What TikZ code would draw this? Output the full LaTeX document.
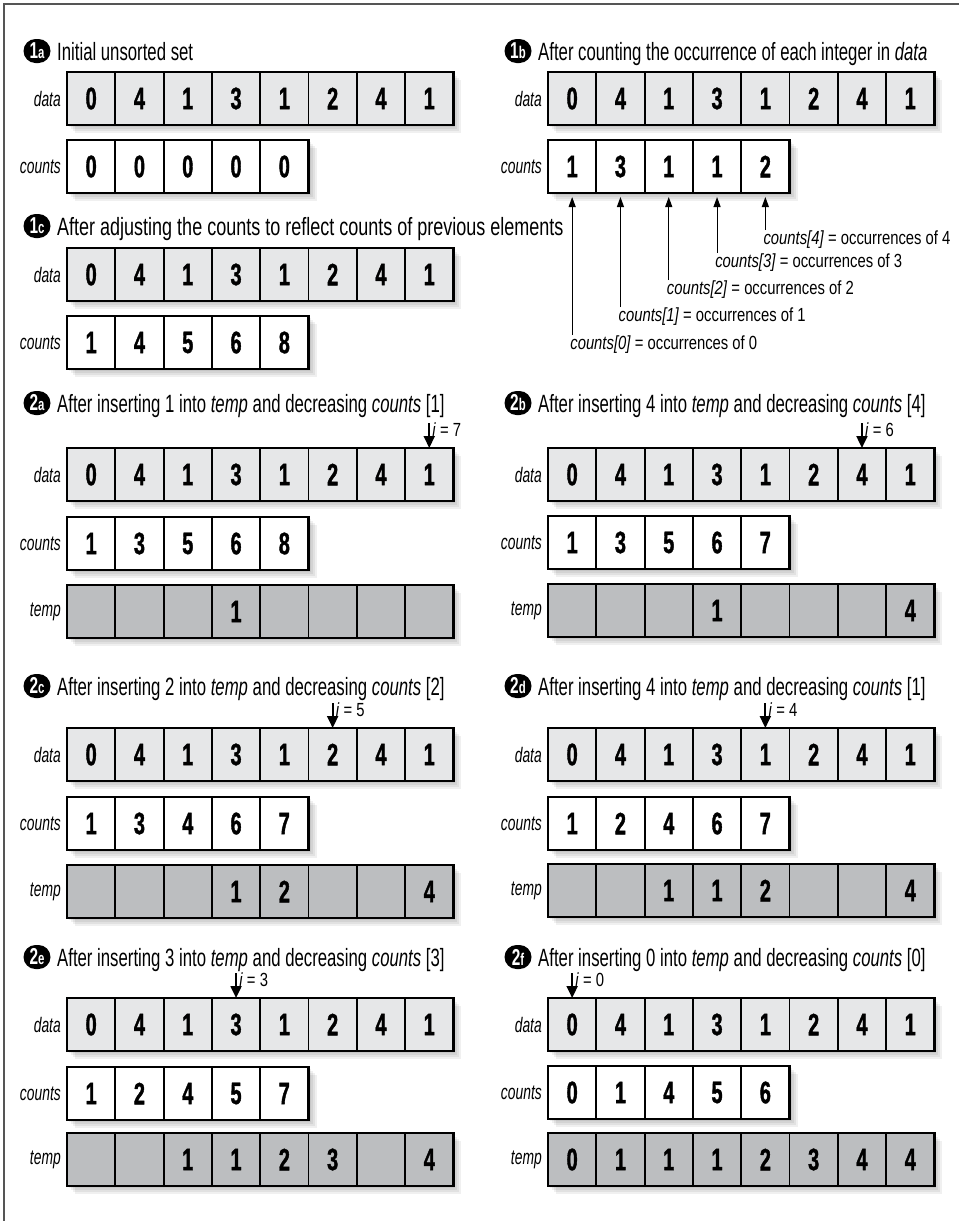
\documentclass[tikz,border=0pt]{standalone}
\usepackage{fontspec}
\setmainfont{Liberation Sans}
\newfontfamily\ttlf{Liberation Sans}[FakeStretch=0.67]
\newfontfamily\ttlw{Liberation Sans}[FakeStretch=0.72]
\newfontfamily\celf{Liberation Sans}[FakeStretch=0.64,FakeBold=1.2]
\newfontfamily\annf{Liberation Sans}[FakeStretch=0.78]
\newfontfamily\labf{Liberation Sans}[FakeStretch=0.66]
\usetikzlibrary{arrows.meta,calc}
\definecolor{datac}{HTML}{E6E7E8}
\definecolor{tempc}{HTML}{BCBEC0}
\definecolor{framec}{HTML}{555555}
\tikzset{
 cellbox/.style={draw=black, line width=1.8pt, minimum width=48.3pt, minimum height=53pt, inner sep=0pt, outer sep=0pt, anchor=north west, font=\celf\bfseries\fontsize{31}{31}\selectfont},
 rowedge/.style={draw=black, line width=2.8pt},
 rowlab/.style={anchor=east, inner sep=0pt, font=\labf\itshape\fontsize{21}{21}\selectfont},
 badge/.style={fill=black, text=white, rounded corners=12pt, minimum width=27pt, minimum height=24pt, inner sep=0pt, font=\ttlf\bfseries},
 ttl/.style={inner sep=0pt, font=\ttlf\fontsize{25}{25}\selectfont},
 ilab/.style={inner sep=0pt, font=\annf\fontsize{19}{19}\selectfont},
 ann/.style={inner sep=0pt, font=\annf\fontsize{19}{19}\selectfont},
 iarr/.style={line width=2pt, -{Triangle[width=11pt,length=12pt]}},
 carr/.style={line width=1.1pt, -{Triangle[width=7pt,length=10pt]}},
 borderline/.style={draw=framec, line width=1.6pt},
}
% #1 name, #2 x, #3 y(top), #4 fill, #5 n cells, #6 values, #7 label
\newcommand{\arow}[7]{%
  \foreach \k in {2,4,6,8}{\fill[black,opacity=0.06] ({#2+\k},{#3+\k}) rectangle ({#2+#5*48.3+\k},{#3+53+\k});}
  \foreach \v [count=\i from 0] in {#6}{\node[cellbox,fill=#4] (#1-\i) at ({#2+\i*48.3},#3) {\v};}
  \pgfmathtruncatemacro\lastidx{#5-1}
  \draw[rowedge] (#1-0.north west) rectangle (#1-\lastidx.south east);
  \node[rowlab] (#1-lab) at ($(#1-0.west)+(-6,0)$) {#7};
}
% #1 name, #2 badge x, #3 baseline y, #4 badge number, #5 badge letter, #6 title
\newcommand{\ttl}[6]{%
  \node[badge] (#1-b) at (#2,{#3-9}) {{\fontsize{23}{23}\selectfont #4}{\fontsize{17}{17}\selectfont #5}};
  \node[ttl,anchor=base west] (#1-t) at ({#2+20},#3) {#6};
}
% #1 row name, #2 cell index, #3 value of i
\newcommand{\iarrow}[3]{%
  \coordinate (#1-it) at ($(#1-#2.north)+(0,-25)$);
  \draw[iarr] (#1-it) -- (#1-#2.north);
  \node[ilab,anchor=base west] (#1-il) at ($(#1-#2.north)+(3,-12)$) {\textit{i} = #3};
}
\begin{document}
\begin{tikzpicture}[x=1pt,y=-1pt]
\useasboundingbox (0,0) rectangle (959,1221);
\fill[white] (0,0) rectangle (959,1221);
\draw[borderline] (4,1221) -- (4,4) -- (959,4);

% 1a
\ttl{t1a}{37}{60}{1}{a}{Initial unsorted set}
\arow{d1a}{67}{72}{datac}{8}{0,4,1,3,1,2,4,1}{data}
\arow{c1a}{67}{140}{white}{5}{0,0,0,0,0}{counts}

% 1b
\ttl{t1b}{518}{60}{1}{b}{After counting the occurrence of each integer in \textit{data}}
\arow{d1b}{548}{72}{datac}{8}{0,4,1,3,1,2,4,1}{data}
\arow{cnt1b}{548}{140}{white}{5}{1,3,1,1,2}{counts}
\foreach \cc/\ty in {0/335,1/307,2/280,3/253,4/230}{
  \path (cnt1b-\cc.south) ++(0,{\ty-193}) coordinate (ct\cc);
  \draw[carr] (ct\cc) -- ($(cnt1b-\cc.south)+(0,4)$);
  \node[ann,anchor=north west] (ctl\cc) at ($(ct\cc)+(-2,1)$) {\textit{counts[\cc]} = occurrences of \cc};
}

% 1c
\ttl{t1c}{37}{235}{1}{c}{\ttlw After adjusting the counts to reflect counts of previous elements}
\arow{d1c}{67}{248}{datac}{8}{0,4,1,3,1,2,4,1}{data}
\arow{c1c}{67}{316}{white}{5}{1,4,5,6,8}{counts}

% 2a
\ttl{t2a}{37}{412}{2}{a}{After inserting 1 into \textit{temp} and decreasing \textit{counts} [1]}
\arow{d2a}{67}{448}{datac}{8}{0,4,1,3,1,2,4,1}{data}
\arow{c2a}{67}{517}{white}{5}{1,3,5,6,8}{counts}
\arow{m2a}{67}{585}{tempc}{8}{{},{},{},1,{},{},{},{}}{temp}
\iarrow{d2a}{7}{7}

% 2b
\ttl{t2b}{518}{412}{2}{b}{After inserting 4 into \textit{temp} and decreasing \textit{counts} [4]}
\arow{d2b}{548}{448}{datac}{8}{0,4,1,3,1,2,4,1}{data}
\arow{c2b}{548}{516}{white}{5}{1,3,5,6,7}{counts}
\arow{m2b}{548}{584}{tempc}{8}{{},{},{},1,{},{},{},4}{temp}
\iarrow{d2b}{6}{6}

% 2c
\ttl{t2c}{37}{695}{2}{c}{After inserting 2 into \textit{temp} and decreasing \textit{counts} [2]}
\arow{d2c}{67}{728}{datac}{8}{0,4,1,3,1,2,4,1}{data}
\arow{c2c}{67}{797}{white}{5}{1,3,4,6,7}{counts}
\arow{m2c}{67}{865}{tempc}{8}{{},{},{},1,2,{},{},4}{temp}
\iarrow{d2c}{5}{5}

% 2d
\ttl{t2d}{518}{695}{2}{d}{After inserting 4 into \textit{temp} and decreasing \textit{counts} [1]}
\arow{d2d}{548}{728}{datac}{8}{0,4,1,3,1,2,4,1}{data}
\arow{c2d}{548}{797}{white}{5}{1,2,4,6,7}{counts}
\arow{m2d}{548}{864}{tempc}{8}{{},{},1,1,2,{},{},4}{temp}
\iarrow{d2d}{4}{4}

% 2e
\ttl{t2e}{37}{966}{2}{e}{After inserting 3 into \textit{temp} and decreasing \textit{counts} [3]}
\arow{d2e}{67}{998}{datac}{8}{0,4,1,3,1,2,4,1}{data}
\arow{c2e}{67}{1067}{white}{5}{1,2,4,5,7}{counts}
\arow{m2e}{67}{1133}{tempc}{8}{{},{},1,1,2,3,{},4}{temp}
\iarrow{d2e}{3}{3}

% 2f
\ttl{t2f}{518}{966}{2}{f}{After inserting 0 into \textit{temp} and decreasing \textit{counts} [0]}
\arow{d2f}{548}{998}{datac}{8}{0,4,1,3,1,2,4,1}{data}
\arow{c2f}{548}{1066}{white}{5}{0,1,4,5,6}{counts}
\arow{m2f}{548}{1133}{tempc}{8}{0,1,1,1,2,3,4,4}{temp}
\iarrow{d2f}{0}{0}
\end{tikzpicture}
\end{document}
